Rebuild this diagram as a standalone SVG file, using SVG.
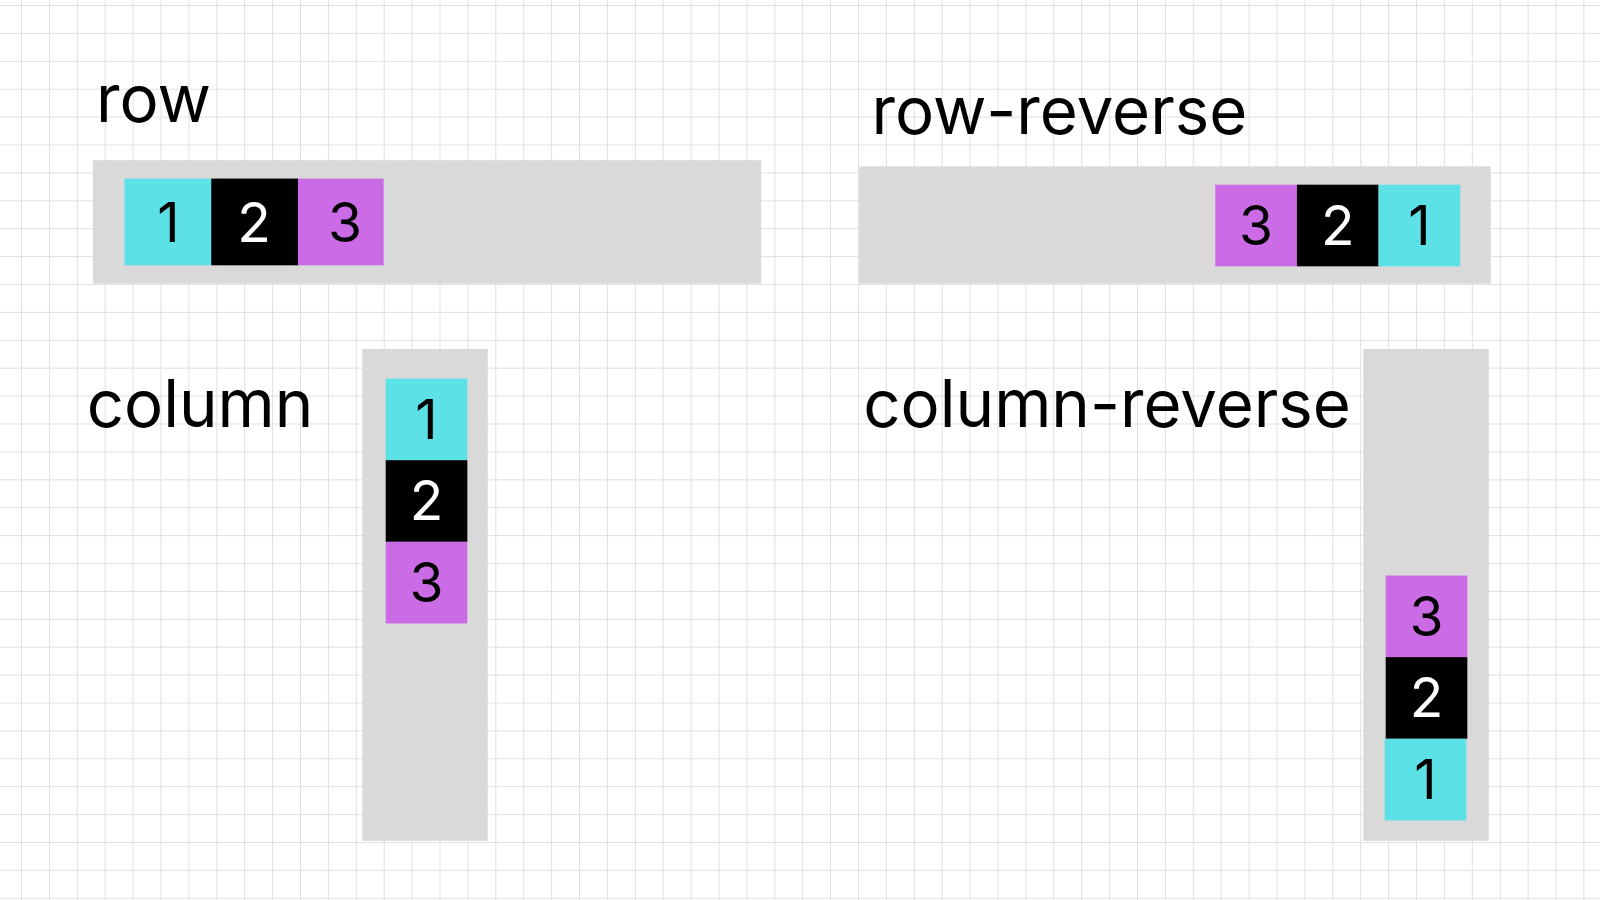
<svg xmlns="http://www.w3.org/2000/svg" width="1600" height="900" viewBox="0 0 1600 900">
<defs>
<pattern id="grid" x="21" y="5" width="27.9" height="27.9" patternUnits="userSpaceOnUse">
<path d="M0 0V27.9M0 0H27.9" fill="none" stroke="#e0e0e0" stroke-width="2"/>
</pattern>
</defs>
<style>
.box{fill:#d9d9d9}
.c1{fill:#5ce1e6}.c2{fill:#000}.c3{fill:#cb6ce6}
.lbl{font-family:Inter,"Liberation Sans",sans-serif;font-size:64px;fill:#000}
.num{font-family:Inter,"Liberation Sans",sans-serif;font-size:54px;text-anchor:middle;fill:#000}
.w{fill:#fff}
</style>
<rect width="1600" height="900" fill="#fff"/>
<rect width="1600" height="900" fill="url(#grid)"/>
<g transform="scale(1.0204)">
<g id="row">
<text class="lbl" x="94" y="120">row</text>
<rect class="box" x="91" y="157" width="655" height="121"/>
<rect class="c1" x="122" y="175" width="85" height="85"/><text class="num" x="165" y="237">1</text>
<rect class="c2" x="207" y="175" width="85" height="85"/><text class="num w" x="249" y="237">2</text>
<rect class="c3" x="292" y="175" width="84" height="85"/><text class="num" x="338" y="237">3</text>
</g>
<g id="row-reverse">
<text class="lbl" x="854" y="131">row-reverse</text>
<rect class="box" x="842" y="163" width="619" height="115"/>
<rect class="c3" x="1191" y="181" width="80" height="80"/><text class="num" x="1231" y="240">3</text>
<rect class="c2" x="1271" y="181" width="80" height="80"/><text class="num w" x="1311" y="240">2</text>
<rect class="c1" x="1351" y="181" width="80" height="80"/><text class="num" x="1391" y="240">1</text>
</g>
<g id="column">
<text class="lbl" x="85" y="418">column</text>
<rect class="box" x="355" y="342" width="123" height="482"/>
<rect class="c1" x="378" y="371" width="80" height="80"/><text class="num" x="418" y="430">1</text>
<rect class="c2" x="378" y="451" width="80" height="80"/><text class="num w" x="418" y="510">2</text>
<rect class="c3" x="378" y="531" width="80" height="80"/><text class="num" x="418" y="590">3</text>
</g>
<g id="column-reverse">
<text class="lbl" x="846" y="418">column-reverse</text>
<rect class="box" x="1336" y="342" width="123" height="482"/>
<rect class="c3" x="1358" y="564" width="80" height="80"/><text class="num" x="1398" y="623">3</text>
<rect class="c2" x="1358" y="644" width="80" height="80"/><text class="num w" x="1398" y="703">2</text>
<rect class="c1" x="1357" y="724" width="80" height="80"/><text class="num" x="1397" y="783">1</text>
</g>
</g>
<g id="connectors"/>
</svg>
